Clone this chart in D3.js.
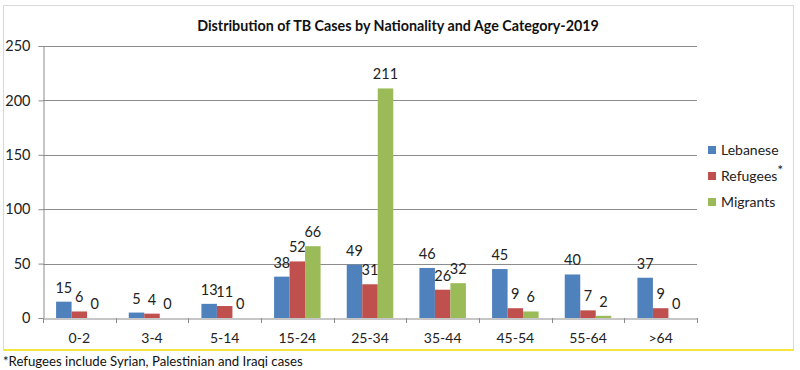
<!DOCTYPE html>
<html><head><meta charset="utf-8">
<script src="https://cdn.jsdelivr.net/npm/d3@7/dist/d3.min.js"></script>
<style>
html,body{margin:0;padding:0;background:#fff;}
svg{display:block;font-family:Lato, "Open Sans", sans-serif;}
</style></head>
<body><svg id="c" width="800" height="370"></svg>
<script>
const categories = ["0-2","3-4","5-14","15-24","25-34","35-44","45-54","55-64",">64"];
const seriesNames = ["Lebanese","Refugees","Migrants"];
const lebanese = [15,5,13,38,49,46,45,40,37];
const refugees = [6,4,11,52,31,26,9,7,9];
const migrants = [0,0,0,66,211,32,6,2,0];
const yTicks = [0,50,100,150,200,250];
const colors = ["#4F81BD","#C0504D","#9BBB59"];
const title = "Distribution of TB Cases by Nationality and Age Category-2019";
const footnote = "*Refugees include Syrian, Palestinian and Iraqi cases";

const series = [lebanese, refugees, migrants];
const svg = d3.select("#c");
const L = 43, R = 697, T = 46, B = 318;

// frame
svg.append("rect").attr("x",3.5).attr("y",5.5).attr("width",790).attr("height",345)
  .attr("fill","none").attr("stroke","#d9d9d9");
svg.append("line").attr("x1",3).attr("x2",794).attr("y1",350).attr("y2",350)
  .attr("stroke","#f5e63c").attr("stroke-width",2);

const y = d3.scaleLinear().domain([0,250]).range([B,T]);
const x0 = d3.scaleBand().domain(categories).range([L,R]).padding(0);
const x1 = d3.scaleBand().domain(seriesNames)
  .range([x0.bandwidth()*0.18, x0.bandwidth()*0.82]).padding(0);

// gridlines
svg.append("g").selectAll("line").data(yTicks.filter(d=>d>0)).join("line")
  .attr("x1",L).attr("x2",R).attr("y1",d=>Math.round(y(d))+0.5).attr("y2",d=>Math.round(y(d))+0.5)
  .attr("stroke","#8c8c8c").attr("stroke-width",1);

// y axis
const ya = svg.append("g").attr("transform",`translate(${L+0.5},0)`)
  .call(d3.axisLeft(y).tickValues(yTicks).tickSize(5).tickPadding(8).tickFormat(d3.format("d")));
ya.select(".domain").attr("stroke","#8c8c8c");
ya.selectAll(".tick line").attr("stroke","#8c8c8c");
ya.selectAll(".tick text").attr("font-size",14.5).attr("fill","#222").attr("font-family","Lato, sans-serif");

// x axis
const xa = svg.append("g").attr("transform",`translate(0,${Math.round(B)+0.5})`)
  .call(d3.axisBottom(x0).tickSize(0).tickPadding(15));
xa.select(".domain").attr("stroke","#8c8c8c");
xa.selectAll(".tick text").attr("font-size",14).attr("fill","#222").attr("font-family","Lato, sans-serif");
// boundary ticks
const bounds = categories.map(c=>x0(c)).concat([R]);
svg.append("g").selectAll("line").data(bounds).join("line")
  .attr("x1",d=>Math.round(d)+0.5).attr("x2",d=>Math.round(d)+0.5)
  .attr("y1",B).attr("y2",B+5).attr("stroke","#8c8c8c");

// bars
const groups = svg.append("g").selectAll("g").data(categories).join("g")
  .attr("transform",c=>`translate(${x0(c)},0)`);
groups.each(function(c,i){
  const g = d3.select(this);
  seriesNames.forEach((s,j)=>{
    const v = series[j][i];
    if (v>0) {
      g.append("rect").attr("x",x1(s)).attr("width",x1.bandwidth())
        .attr("y",y(v)).attr("height",y(0)-y(v)).attr("fill",colors[j]);
    }
    g.append("text").attr("x",x1(s)+x1.bandwidth()/2).attr("y",y(v)-9)
      .attr("text-anchor","middle").attr("font-size",14.5).attr("fill","#222")
      .text(v);
  });
});

// title
svg.append("text").attr("x",398).attr("y",31).attr("text-anchor","middle")
  .attr("font-size",14.3).attr("font-weight","bold").attr("fill","#111").text(title);

// legend
const lg = svg.append("g");
seriesNames.forEach((s,j)=>{
  const yy = 150 + j*26;
  lg.append("rect").attr("x",708).attr("y",yy-4).attr("width",8).attr("height",8).attr("fill",colors[j]);
  const t = lg.append("text").attr("x",721).attr("y",yy+5).attr("font-size",14).attr("fill","#222").text(s);
  if (s==="Refugees") t.append("tspan").attr("dy",-6).attr("font-size",14).text("*");
});

// footnote
svg.append("text").attr("x",3).attr("y",366).attr("font-size",13.2).attr("fill","#111").text(footnote);
</script></body></html>
